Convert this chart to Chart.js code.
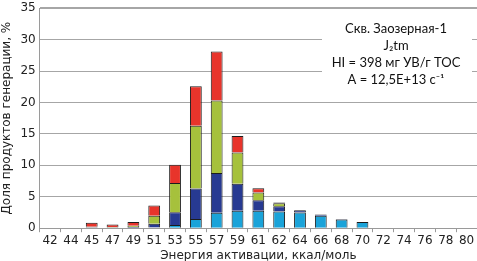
<!DOCTYPE html>
<html>
<head>
<meta charset="utf-8">
<script src="https://cdn.jsdelivr.net/npm/chart.js@4/dist/chart.umd.min.js"></script>
<style>
	html, body { margin: 0; padding: 0; background: #fff; overflow: hidden; }
	#wrapper { position: absolute; left: 0; top: -3px; width: 477px; height: 266px; }
</style>
</head>
<body>
<div id="wrapper"><canvas id="bar-energy"></canvas></div>
<script>
// energy bins, kcal/mol
const categories = ["42", "44", "45", "47", "49", "51", "53", "55", "57", "59", "61", "62", "64", "66", "68", "70", "72", "74", "76", "78", "80"];

// stacked parts, % of generated products
const cyanPart = [0, 0, 0, 0, 0, 0.1, 0.5, 1.45, 2.45, 2.76, 2.76, 2.65, 2.5, 2.0, 1.4, 0.97, 0, 0, 0, 0, 0];
const bluePart = [0, 0, 0.15, 0.1, 0.2, 0.6, 2.05, 4.85, 6.35, 4.3, 1.7, 0.85, 0.37, 0.18, 0.05, 0, 0, 0, 0, 0, 0];
const greenPart = [0, 0, 0.1, 0.1, 0.2, 1.3, 4.65, 10.0, 11.5, 5.0, 1.2, 0.45, 0, 0, 0, 0, 0, 0, 0, 0, 0];
const redPart = [0, 0, 0.6, 0.4, 0.6, 1.6, 2.9, 6.3, 7.8, 2.6, 0.7, 0.15, 0, 0, 0, 0, 0, 0, 0, 0, 0];

const yTicks = [0, 5, 10, 15, 20, 25, 30, 35];

const noteLines = ["Скв. Заозерная-1", "J₂tm", "HI = 398 мг УВ/г ТОС", "A = 12,5E+13 с⁻¹"];

const tickFont = { family: "DejaVu Sans", size: 12 };

function part(label, values, color) {
	return {
		label: label,
		data: values,
		backgroundColor: color,
		borderColor: "#1c1c1c",
		borderWidth: 1,
		barPercentage: 0.63,
		categoryPercentage: 0.9,
	};
}

// white box with the well note, drawn over the grid
const notePlugin = {
	id: "note",
	afterDraw(chart) {
		let ctx = chart.ctx;
		let cx = 396;
		let top = chart.chartArea.top;
		ctx.save();
		ctx.fillStyle = "#fff";
		ctx.fillRect(322, top + 10, 150, 76);
		ctx.fillStyle = "#111";
		ctx.font = "13px Lato";
		ctx.textAlign = "center";
		ctx.textBaseline = "middle";
		noteLines.forEach((line, i) => {
			ctx.fillText(line, cx, top + 21 + i * 17);
		});
		ctx.restore();
	},
};

let ctx = document.getElementById("bar-energy").getContext("2d");

new Chart(ctx, {
	type: "bar",
	data: {
		labels: categories,
		datasets: [
			part("cyan", cyanPart, "#1aa3d9"),
			part("blue", bluePart, "#273a92"),
			part("green", greenPart, "#a6c13c"),
			part("red", redPart, "#e8342b"),
		],
	},
	options: {
		responsive: true,
		maintainAspectRatio: false,
		animation: false,
		layout: { padding: { left: 0, right: 0, top: 0, bottom: 0 } },
		plugins: {
			legend: { display: false },
			tooltip: { enabled: false },
		},
		scales: {
			x: {
				stacked: true,
				grid: {
					display: true,
					drawOnChartArea: false,
					tickLength: 4,
					color: "#9a9a9a",
				},
				border: { color: "#9a9a9a" },
				ticks: {
					color: "#222",
					font: tickFont,
					maxRotation: 0,
					autoSkip: false,
					padding: 1,
				},
				title: {
					display: true,
					text: "Энергия активации, ккал/моль",
					color: "#222",
					font: { family: "DejaVu Sans", size: 12 },
					padding: { top: 0, bottom: 0 },
				},
			},
			y: {
				stacked: true,
				min: 0,
				max: 35,
				afterBuildTicks(axis) {
					axis.ticks = yTicks.map((v) => ({ value: v }));
				},
				grid: {
					color: "#a6a6a6",
					lineWidth: (c) => (c.tick && c.tick.value === 35 ? 2 : 1),
					drawTicks: false,
				},
				border: { color: "#9a9a9a" },
				ticks: {
					color: "#222",
					font: tickFont,
					padding: 4,
				},
				title: {
					display: true,
					text: "Доля продуктов генерации, %",
					color: "#222",
					font: { family: "DejaVu Sans", size: 12 },
					padding: { top: 0, bottom: 2 },
				},
			},
		},
	},
	plugins: [notePlugin],
});
</script>
</body>
</html>
